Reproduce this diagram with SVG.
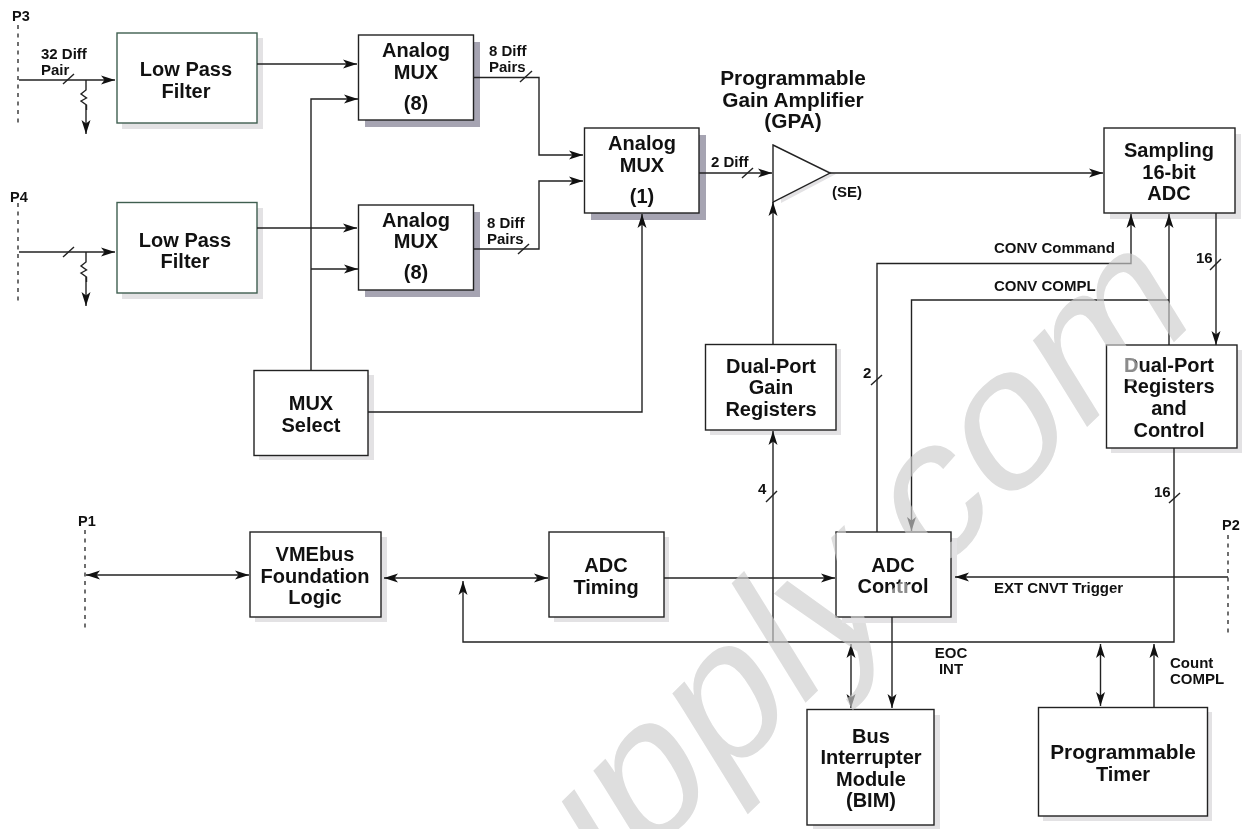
<svg xmlns="http://www.w3.org/2000/svg" width="1245" height="829" viewBox="0 0 1245 829">
<style>
text{font-family:"Liberation Sans",Arial,sans-serif;font-weight:bold;fill:#111}
.b text,text.b{font-size:20px;text-anchor:middle}
.s{font-size:15px}
.box{fill:#fff;stroke:#222;stroke-width:1.4}
.grn{fill:#fff;stroke:#3f5f50;stroke-width:1.4}
.sh{fill:#e3e2e4}
.shd{fill:#a6a4b2}
#connectors path{fill:none;stroke:#222;stroke-width:1.4}
#connectors .a{marker-end:url(#arr)}
#connectors .d{marker-start:url(#arrs);marker-end:url(#arr)}
#connectors .dash{stroke-width:1.3;stroke-dasharray:4 4.5}
#wm{font-family:"Liberation Sans",Arial,sans-serif;font-weight:normal;font-size:100px;fill:#dedede}
#wmtop{mix-blend-mode:lighten;opacity:.6}
</style>
<defs>
<marker id="arr" markerUnits="userSpaceOnUse" markerWidth="16" markerHeight="12" refX="14" refY="5" orient="auto"><path d="M0,0.5 L14,5 L0,9.5 L3.5,5 Z" fill="#111"/></marker>
<marker id="arrs" markerUnits="userSpaceOnUse" markerWidth="16" markerHeight="12" refX="0" refY="5" orient="auto"><path d="M14,0.5 L0,5 L14,9.5 L10.5,5 Z" fill="#111"/></marker>
</defs>
<rect width="1245" height="829" fill="#fff"/>
<text id="wm" transform="matrix(1.42,-1.39,1.02,1.65,559,944)">upply.com</text>
<g id="lpf1" class="b"><rect class="sh" x="122" y="38" width="141" height="91"/><rect class="grn" x="117" y="33" width="140" height="90"/><text x="186" y="76">Low Pass</text><text x="186" y="98">Filter</text></g>
<g id="lpf2" class="b"><rect class="sh" x="122" y="208" width="141" height="91"/><rect class="grn" x="117" y="202.500" width="140" height="90.500"/><text x="185" y="247">Low Pass</text><text x="185" y="268">Filter</text></g>
<g id="mux1" class="b"><rect class="shd" x="365" y="42" width="115" height="85"/><rect class="box" x="358.500" y="35" width="115" height="85"/><text x="416" y="57">Analog</text><text x="416" y="79">MUX</text><text x="416" y="110">(8)</text></g>
<g id="mux2" class="b"><rect class="shd" x="365" y="212" width="115" height="85"/><rect class="box" x="358.500" y="205" width="115" height="85"/><text x="416" y="227">Analog</text><text x="416" y="248">MUX</text><text x="416" y="279">(8)</text></g>
<g id="mux3" class="b"><rect class="shd" x="591" y="135" width="115" height="85"/><rect class="box" x="584.500" y="128" width="114.500" height="85"/><text x="642" y="150">Analog</text><text x="642" y="172">MUX</text><text x="642" y="203">(1)</text></g>
<g id="gpa" class="b"><path class="sh" d="M779,149L836,174L781,203Z"/><path class="box" d="M773,145L830,173L773,202Z"/><text x="793" y="85" style="font-size:20.800px">Programmable</text><text x="793" y="107" style="font-size:20.800px">Gain Amplifier</text><text x="793" y="128" style="font-size:20.800px">(GPA)</text><text class="s" x="832" y="197" style="text-anchor:start;font-size:15px">(SE)</text></g>
<g id="adc" class="b"><rect class="sh" x="1110" y="134" width="131" height="85"/><rect class="box" x="1104" y="128" width="131" height="85"/><text x="1169" y="157">Sampling</text><text x="1169" y="179">16-bit</text><text x="1169" y="200">ADC</text></g>
<g id="dpr" class="b"><rect class="sh" x="1111" y="350" width="131" height="103"/><rect class="box" x="1106.500" y="345" width="130.500" height="103"/><text x="1169" y="372">Dual-Port</text><text x="1169" y="393">Registers</text><text x="1169" y="415">and</text><text x="1169" y="437">Control</text></g>
<g id="dpg" class="b"><rect class="sh" x="710" y="349" width="131" height="86"/><rect class="box" x="705.500" y="344.500" width="130.500" height="85.500"/><text x="771" y="373">Dual-Port</text><text x="771" y="394">Gain</text><text x="771" y="416">Registers</text></g>
<g id="muxsel" class="b"><rect class="sh" x="259" y="375" width="115" height="85"/><rect class="box" x="254" y="370.500" width="114" height="85"/><text x="311" y="410">MUX</text><text x="311" y="432">Select</text></g>
<g id="vme" class="b"><rect class="sh" x="255" y="537" width="132" height="85"/><rect class="box" x="250" y="532" width="131" height="85"/><text x="315" y="561">VMEbus</text><text x="315" y="583">Foundation</text><text x="315" y="604">Logic</text></g>
<g id="timing" class="b"><rect class="sh" x="554" y="537" width="115" height="85"/><rect class="box" x="549" y="532" width="115" height="85"/><text x="606" y="572">ADC</text><text x="606" y="594">Timing</text></g>
<g id="adcctl" class="b"><rect class="sh" x="842" y="538" width="115" height="85"/><rect class="box" x="836" y="532" width="115" height="85"/><text x="893" y="572">ADC</text><text x="893" y="593">Control</text></g>
<g id="bim" class="b"><rect class="sh" x="813" y="715" width="127" height="116"/><rect class="box" x="807" y="709.500" width="127" height="115.500"/><text x="871" y="743">Bus</text><text x="871" y="764">Interrupter</text><text x="871" y="786">Module</text><text x="871" y="807">(BIM)</text></g>
<g id="timer" class="b"><rect class="sh" x="1043" y="712" width="169" height="109"/><rect class="box" x="1038.500" y="707.500" width="169" height="108.500"/><text x="1123" y="759" style="font-size:20.800px">Programmable</text><text x="1123" y="781">Timer</text></g>
<g id="connectors">
<path class="dash" d="M18,25V127M18,203V305M85,530V630M1228,535V636"/>
<path class="a" d="M19,80H115"/><path d="M63,84L74,74M86,80V90L81,94L86.500,98L81,101L86.500,105V110"/><path class="a" d="M86,105V134"/>
<path class="a" d="M19,252H115"/><path d="M63,257L74,247M86,252V262L81,266L86.500,270L81,273L86.500,277V282"/><path class="a" d="M86,277V306"/>
<path class="a" d="M257,64H357"/><path class="a" d="M257,228H357"/>
<path class="a" d="M311,370V99H358"/><path class="a" d="M311,269H358"/>
<path class="a" d="M473,77.500H539V155H583"/><path d="M520,82L532,71"/>
<path class="a" d="M473,249H539V181H583"/><path d="M518,254L529,244"/>
<path class="a" d="M368,412H642V214"/>
<path class="a" d="M699,173H772"/><path d="M742,178L753,168"/>
<path class="a" d="M830,173H1103"/>
<path class="a" d="M773,344V202"/>
<path class="a" d="M773,642V431"/><path d="M766,502L777,491"/>
<path class="a" d="M877,532V263.500H1131V214"/><path d="M871,385L882,375"/>
<path class="a" d="M1169,300H911.500V531"/>
<path class="a" d="M1169,345V214"/>
<path class="a" d="M1216,213V345"/><path d="M1210,270L1221,259"/>
<path class="a" d="M1174,448V642H463V581"/><path d="M1169,503L1180,493"/>
<path class="d" d="M86,575H249"/>
<path class="d" d="M384,578H548"/>
<path class="a" d="M664,578H835"/>
<path class="a" d="M1228,577H955"/>
<path class="a" d="M892,617V708"/>
<path class="d" d="M851,644V708"/>
<path class="d" d="M1100.500,644V706"/>
<path class="a" d="M1154,707V644"/>
</g>
<g id="labels">
<text class="s" x="12" y="21" style="font-size:14.500px">P3</text><text class="s" x="10" y="202" style="font-size:14.500px">P4</text><text class="s" x="78" y="526" style="font-size:14.500px">P1</text><text class="s" x="1222" y="530" style="font-size:14.500px">P2</text>
<text class="s" x="41" y="59">32 Diff</text><text class="s" x="41" y="75">Pair</text>
<text class="s" x="489" y="56">8 Diff</text><text class="s" x="489" y="72">Pairs</text>
<text class="s" x="487" y="228">8 Diff</text><text class="s" x="487" y="244">Pairs</text>
<text class="s" x="711" y="167">2 Diff</text>
<text class="s" x="994" y="253">CONV Command</text><text class="s" x="994" y="291">CONV COMPL</text>
<text class="s" x="1196" y="263">16</text><text class="s" x="1154" y="497">16</text><text class="s" x="863" y="378">2</text><text class="s" x="758" y="494">4</text>
<text class="s" x="994" y="593">EXT CNVT Trigger</text>
<text class="s" x="951" y="658" style="text-anchor:middle">EOC</text><text class="s" x="951" y="674" style="text-anchor:middle">INT</text>
<text class="s" x="1170" y="668">Count</text><text class="s" x="1170" y="684">COMPL</text>
</g>
<use id="wmtop" href="#wm"/>
</svg>
